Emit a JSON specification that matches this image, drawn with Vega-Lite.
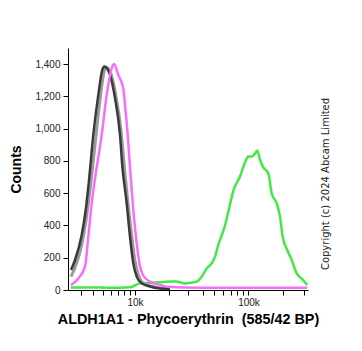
{
  "$schema": "https://vega.github.io/schema/vega-lite/v6.json",
  "width": 240,
  "height": 242,
  "autosize": "none",
  "padding": {"left": 68, "top": 48, "right": 54, "bottom": 61},
  "background": "white",
  "title": {
    "text": "Copyright (c) 2024 Abcam Limited",
    "orient": "right",
    "angle": -90,
    "anchor": "middle",
    "font": "DejaVu Sans",
    "fontSize": 10,
    "fontWeight": "normal",
    "color": "#222",
    "offset": -8,
    "dx": -15
  },
  "config": {
    "font": "Liberation Sans",
    "view": {"stroke": null},
    "axis": {"grid": false, "domainColor": "#000", "tickColor": "#000", "labelColor": "#222", "labelFontSize": 10, "titleColor": "#000", "titleFontSize": 14, "titleFontWeight": "bold", "tickSize": 5}
  },
  "datasets": {
    "green": [
      {"fl": 2381, "count": 15}, {"fl": 4696, "count": 15}, {"fl": 7274, "count": 14}, {"fl": 9000, "count": 17},
      {"fl": 11105, "count": 41}, {"fl": 13672, "count": 45}, {"fl": 16800, "count": 48}, {"fl": 20615, "count": 52},
      {"fl": 23630, "count": 52}, {"fl": 26155, "count": 45}, {"fl": 27964, "count": 40}, {"fl": 30940, "count": 45},
      {"fl": 35420, "count": 52}, {"fl": 39175, "count": 83}, {"fl": 43320, "count": 134}, {"fl": 47896, "count": 165},
      {"fl": 51174, "count": 205}, {"fl": 54677, "count": 280}, {"fl": 56572, "count": 310}, {"fl": 62528, "count": 400},
      {"fl": 69108, "count": 530}, {"fl": 73827, "count": 615}, {"fl": 84392, "count": 703}, {"fl": 93244, "count": 790},
      {"fl": 99600, "count": 828}, {"fl": 107870, "count": 828}, {"fl": 113840, "count": 845}, {"fl": 119170, "count": 864},
      {"fl": 125750, "count": 806}, {"fl": 134300, "count": 760}, {"fl": 148360, "count": 723}, {"fl": 158750, "count": 600},
      {"fl": 175360, "count": 537}, {"fl": 187250, "count": 455}, {"fl": 197580, "count": 330}, {"fl": 216500, "count": 248},
      {"fl": 236280, "count": 186}, {"fl": 260940, "count": 103}, {"fl": 288200, "count": 70}, {"fl": 322140, "count": 31}
    ],
    "gray": [
      {"fl": 2381, "count": 83}, {"fl": 2627, "count": 140}, {"fl": 3085, "count": 280}, {"fl": 3389, "count": 420},
      {"fl": 3743, "count": 620}, {"fl": 4197, "count": 900}, {"fl": 4696, "count": 1180}, {"fl": 5134, "count": 1350},
      {"fl": 5365, "count": 1380}, {"fl": 5987, "count": 1340}, {"fl": 6673, "count": 1200}, {"fl": 7431, "count": 990},
      {"fl": 8093, "count": 720}, {"fl": 8811, "count": 480}, {"fl": 9389, "count": 320}, {"fl": 10000, "count": 180},
      {"fl": 10650, "count": 100}, {"fl": 11578, "count": 50}, {"fl": 13672, "count": 25}, {"fl": 16800, "count": 12},
      {"fl": 20615, "count": 8}
    ],
    "black": [
      {"fl": 2381, "count": 124}, {"fl": 2627, "count": 186}, {"fl": 3085, "count": 341}, {"fl": 3389, "count": 496},
      {"fl": 3658, "count": 680}, {"fl": 4038, "count": 961}, {"fl": 4521, "count": 1209}, {"fl": 4943, "count": 1364},
      {"fl": 5167, "count": 1385}, {"fl": 5858, "count": 1333}, {"fl": 6531, "count": 1189}, {"fl": 7274, "count": 961},
      {"fl": 7640, "count": 770}, {"fl": 8391, "count": 537}, {"fl": 9000, "count": 330}, {"fl": 9649, "count": 165},
      {"fl": 10364, "count": 83}, {"fl": 11505, "count": 41}, {"fl": 13198, "count": 25}, {"fl": 16800, "count": 10},
      {"fl": 20615, "count": 8}
    ],
    "magenta": [
      {"fl": 2381, "count": 31}, {"fl": 2844, "count": 72}, {"fl": 3334, "count": 145}, {"fl": 3600, "count": 330},
      {"fl": 3892, "count": 537}, {"fl": 4197, "count": 690}, {"fl": 4877, "count": 961}, {"fl": 5448, "count": 1209},
      {"fl": 6079, "count": 1374}, {"fl": 6391, "count": 1401}, {"fl": 7013, "count": 1333}, {"fl": 7805, "count": 1250},
      {"fl": 8093, "count": 1147}, {"fl": 8572, "count": 961}, {"fl": 9000, "count": 760}, {"fl": 9649, "count": 496},
      {"fl": 10364, "count": 290}, {"fl": 11105, "count": 145}, {"fl": 11896, "count": 90}, {"fl": 13672, "count": 52},
      {"fl": 16800, "count": 31}, {"fl": 20615, "count": 18}, {"fl": 37858, "count": 14}, {"fl": 103026, "count": 14},
      {"fl": 322140, "count": 14}
    ]
  },
  "encoding": {
    "x": {
      "field": "fl", "type": "quantitative",
      "scale": {"type": "symlog", "constant": 600, "domain": [2208, 326700], "nice": false, "zero": false},
      "axis": {
        "values": [3000, 4000, 5000, 6000, 7000, 8000, 9000, 10000, 20000, 30000, 40000, 50000, 60000, 70000, 80000, 90000, 100000, 200000, 300000],
        "labelExpr": "datum.value == 10000 ? '10k' : (datum.value == 100000 ? '100k' : '')",
        "labelPadding": 2,
        "labelFlush": false,
        "labelOverlap": false,
        "title": "ALDH1A1 - Phycoerythrin \u00a0(585/42 BP)",
        "titleFontSize": 14.4,
        "titlePadding": 5
      }
    },
    "y": {
      "field": "count", "type": "quantitative",
      "scale": {"domain": [0, 1500], "nice": false},
      "axis": {
        "values": [0, 200, 400, 600, 800, 1000, 1200, 1400],
        "format": ",d",
        "labelPadding": 3,
        "title": "Counts",
        "titlePadding": 11
      }
    }
  },
  "layer": [
    {"data": {"name": "green"}, "mark": {"type": "line", "color": "#44e844", "strokeWidth": 2.5, "interpolate": "monotone", "clip": true}},
    {"data": {"name": "gray"}, "mark": {"type": "line", "color": "#9a9a9a", "strokeWidth": 3, "interpolate": "monotone", "clip": true}},
    {"data": {"name": "black"}, "mark": {"type": "line", "color": "#3a3a3a", "strokeWidth": 2.5, "interpolate": "monotone", "clip": true}},
    {"data": {"name": "magenta"}, "mark": {"type": "line", "color": "#fb6cfb", "strokeWidth": 2.5, "interpolate": "monotone", "clip": true}}
  ]
}
